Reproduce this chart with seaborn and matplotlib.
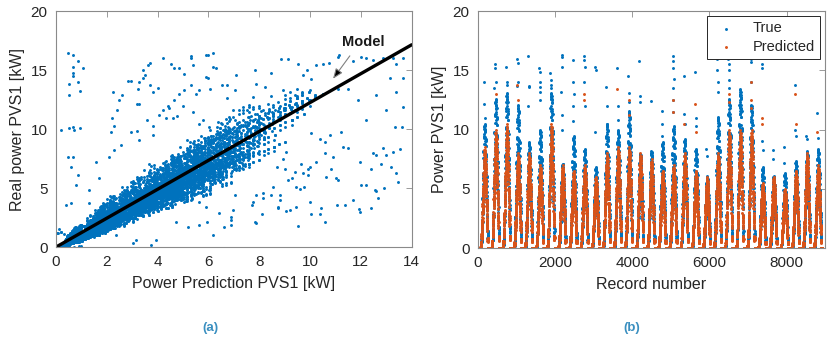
import numpy as np
import matplotlib
matplotlib.use("Agg")
import matplotlib.pyplot as plt
import seaborn as sns

# ---- data (kW) ----
# dense peak of each daily cycle in panel (b)
PRED_PEAK = [8.5, 10.0, 10.5, 8.0, 8.0, 7.0, 10.5, 7.0, 6.5, 7.0, 6.0, 8.0, 8.5, 8.5, 8.0, 7.5,
             6.5, 7.0, 8.0, 6.5, 6.0, 8.0, 10.0, 10.0, 10.0, 5.5, 6.0, 5.0, 6.5, 8.0, 7.0]
TRUE_PEAK = [10.0, 12.0, 12.5, 11.5, 8.5, 9.5, 12.5, 6.8, 9.0, 8.0, 6.5, 10.0, 9.5, 11.0, 7.6, 7.8,
             8.5, 9.8, 8.8, 8.0, 5.8, 10.5, 12.0, 12.8, 11.5, 6.5, 5.8, 6.0, 7.0, 7.8, 8.0]
# hourly fraction of the peak over one day, and the fluctuation inside each hour
HOUR_PRED = [0.02, 0.06, 0.15, 0.28, 0.44, 0.60, 0.75, 0.88, 0.97, 1.00, 0.95, 0.84, 0.68, 0.48, 0.28, 0.10]
HOUR_TRUE = [0.00, 0.03, 0.10, 0.22, 0.40, 0.60, 0.78, 0.90, 0.98, 1.00, 0.96, 0.88, 0.75, 0.58, 0.36, 0.14]
INTRA_PRED = [0.70, 0.95, 0.82, 1.00, 0.76, 0.90, 0.62, 0.97, 0.86, 0.68, 0.93, 0.80]
INTRA_TRUE = [0.60, 1.05, 0.76, 1.04, 0.59, 0.98, 0.55, 1.03, 0.71, 0.76, 0.90, 0.81]
CYCLE_LEN = 288
DAY_START = 68

# isolated true values above the daily columns in panel (b): record, kW
TRUE_SPIKE_REC = [150, 170, 185, 440, 455, 470, 430, 462, 478, 728, 745, 760, 735, 1015, 1030, 1045, 1022,
                  1305, 1320, 1335, 1312, 1590, 1600, 1610, 1620, 1598, 1606, 1880, 1890, 1900, 1886, 1896, 1905,
                  2170, 2180, 2192, 2165, 2185, 2175, 2455, 2470, 2480, 2462, 2475, 2745, 2760, 2770, 2752, 2765,
                  3035, 3050, 3042, 3320, 3335, 3345, 3610, 3625, 3635, 3900, 3912, 3920, 3905, 4185, 4200, 4210,
                  4475, 4490, 4765, 4780, 4772, 5050, 5058, 5064, 5070, 5055, 5062, 5068, 5340, 5352, 5360,
                  5625, 5640, 5650, 5915, 5930, 6200, 6208, 6215, 6222, 6212, 6490, 6498, 6505, 6512, 6502,
                  6780, 6784, 6788, 6792, 6796, 6800, 7065, 7072, 7080, 7088, 7355, 7362, 7370, 7378,
                  7645, 7660, 7930, 7945, 8220, 8230, 8238, 8510, 8522, 8795, 8805, 8815]
TRUE_SPIKE_VAL = [14.0, 12.2, 11.0, 15.5, 15.2, 14.0, 13.5, 12.5, 11.8, 15.3, 14.0, 13.8, 12.3, 16.0, 15.6, 14.0, 13.7,
                  16.2, 13.7, 13.6, 12.0, 15.2, 14.9, 14.0, 13.6, 13.2, 12.5, 14.8, 14.2, 13.8, 13.5, 13.0, 12.6,
                  16.3, 16.1, 15.3, 13.2, 11.2, 10.0, 15.9, 14.0, 13.0, 12.0, 10.7, 16.2, 15.9, 15.3, 14.0, 12.0,
                  15.3, 15.0, 9.8, 13.6, 12.0, 10.5, 15.2, 12.0, 10.8, 14.5, 13.1, 12.3, 11.5, 15.8, 12.8, 12.3,
                  12.4, 8.0, 11.6, 10.5, 9.5, 16.2, 15.8, 15.2, 14.3, 13.5, 12.5, 11.5, 14.5, 11.3, 10.5,
                  14.9, 11.0, 10.3, 8.4, 7.8, 16.0, 15.0, 14.0, 13.2, 11.0, 16.0, 15.5, 15.0, 14.2, 13.5,
                  12.8, 12.5, 12.2, 11.9, 11.6, 11.3, 16.0, 15.7, 14.0, 12.0, 15.5, 15.2, 9.0, 8.3,
                  8.3, 7.5, 8.5, 7.2, 13.8, 10.0, 9.5, 9.5, 9.2, 11.4, 9.3, 8.0]
PRED_SPIKE_REC = [460, 1020, 1035, 2750, 2762, 3615, 3910, 3918, 5048, 5066, 5345, 5630, 5645,
                  6495, 6508, 7070, 7078, 7085, 7360, 7372, 8225, 8235, 8800]
PRED_SPIKE_VAL = [13.0, 13.8, 12.5, 13.0, 12.5, 13.4, 11.2, 12.5, 11.5, 12.5, 10.5, 12.2, 9.8,
                  13.0, 12.3, 14.0, 12.5, 11.8, 11.0, 10.5, 13.0, 10.5, 9.8]

# scattered points of panel (a) away from the main cloud: predicted, real
OUT_PRED = [0.46, 0.68, 0.85, 0.68, 1.05, 0.68, 0.68, 0.52, 0.85, 0.94, 0.52, 2.23, 2.49, 2.60, 2.42, 2.20,
            2.82, 2.95, 3.25, 3.44, 3.51, 3.41, 3.64, 3.70, 4.22, 4.52, 4.65, 4.85, 5.05, 5.31, 5.31, 5.40,
            5.90, 6.00, 6.19, 6.19, 6.30, 5.90, 6.00, 6.06, 5.64, 5.50, 5.31, 5.05, 4.85, 4.65, 4.39, 4.45,
            4.20, 4.98, 5.38, 4.78, 4.32, 4.60, 4.06, 3.80, 4.00, 3.70, 3.22, 3.25, 3.20, 3.80, 3.60, 6.55,
            6.75, 6.75, 6.95, 6.82, 5.77, 5.64, 6.03, 6.50, 2.29, 0.52, 0.66, 0.72, 0.93,
            7.83, 8.48, 8.87, 9.14, 9.53, 9.86, 10.25, 10.51, 10.75, 11.10, 11.15, 11.70, 12.02, 12.22, 12.48,
            12.87, 13.27, 13.66, 13.40, 13.13, 13.40, 13.66, 13.66, 13.00, 12.61, 11.89, 11.50, 11.10, 7.89,
            8.22, 7.76, 8.48, 8.94, 7.37, 7.60, 8.61, 9.27, 9.72, 10.05, 7.04, 7.10, 12.22,
            13.33, 13.60, 11.23, 10.77, 10.38, 10.05, 10.58, 11.30, 11.50, 12.48, 12.61, 12.87, 13.00, 13.27,
            13.53, 12.80, 13.20, 13.40, 13.46, 12.90, 12.61, 12.67, 12.41, 12.22, 12.02, 12.41, 11.95, 11.69,
            11.93, 11.36, 11.08, 11.04, 11.10, 10.64, 10.84, 10.90, 10.58, 10.25, 9.99, 9.92, 9.75, 9.99,
            10.05, 10.38, 10.45, 10.58, 9.53, 9.46, 9.20, 8.74, 8.81, 8.81, 8.74, 8.48, 9.07, 8.15, 8.15,
            7.89, 7.76, 7.70, 8.09, 7.83, 7.89, 7.04, 6.87, 6.90, 8.55, 9.46, 9.60, 9.27, 9.14, 8.68, 9.00,
            9.40, 9.72, 8.94, 9.07, 9.66, 9.92, 11.95, 12.54,
            0.46, 0.66, 0.59, 0.85, 0.79, 1.57, 1.70, 1.31, 1.31, 2.29, 2.10, 2.56, 2.95, 3.28, 2.16, 0.20,
            3.80, 0.20, 0.07, 0.46, 0.59, 0.39, 3.93, 3.74, 3.02, 4.72, 5.18, 5.64, 6.16, 5.96, 6.62, 6.88,
            6.95, 5.90, 6.42, 5.64, 3.15, 2.36, 3.20,
            0.30, 0.50, 0.70, 0.90, 1.00, 0.05, 0.10, 0.20, 0.30]
OUT_REAL = [16.45, 16.26, 15.80, 15.30, 15.20, 14.76, 14.50, 13.80, 14.00, 13.20, 12.90, 13.15, 12.45, 12.90, 11.66, 10.90,
            14.05, 14.05, 14.00, 14.30, 14.56, 15.05, 15.40, 15.60, 16.06, 15.55, 15.20, 15.20, 14.65, 16.17, 16.00, 15.40,
            16.30, 16.26, 16.45, 15.30, 15.20, 14.40, 14.30, 13.43, 13.30, 13.00, 13.70, 13.30, 12.95, 12.50, 12.00, 11.80,
            11.60, 12.00, 11.45, 11.10, 10.90, 10.90, 11.18, 13.15, 13.50, 13.70, 13.40, 12.15, 12.10, 10.30, 10.75, 13.70,
            13.70, 12.60, 11.60, 11.05, 10.75, 10.40, 10.20, 10.50, 10.25, 10.08, 10.20, 9.90, 10.08,
            14.99, 14.76, 15.98, 15.98, 15.55, 15.05, 15.40, 15.55, 15.60, 16.10, 16.30, 15.80, 16.10, 16.05, 15.90,
            16.06, 16.00, 16.06, 15.50, 14.30, 13.15, 14.30, 11.88, 11.60, 12.87, 12.45, 13.44, 13.44, 13.86,
            13.57, 12.73, 12.79, 13.29, 11.60, 11.88, 11.60, 11.88, 14.56, 14.28, 13.29, 14.56, 10.75,
            10.19, 10.19, 9.77, 9.48, 9.20, 9.63, 8.92, 8.50, 8.40, 8.00, 7.80, 8.40, 7.80, 8.10,
            8.30, 7.08, 6.80, 6.24, 5.48, 5.02, 4.77, 4.12, 3.33, 5.25, 5.25, 6.66, 7.22, 3.98,
            3.22, 3.56, 3.56, 5.82, 5.70, 5.95, 6.66, 7.65, 8.00, 7.17, 6.80, 6.10, 5.10, 3.78,
            2.77, 2.77, 3.28, 2.09, 1.80, 3.41, 3.13, 3.41, 3.98, 4.40, 3.30, 4.40, 3.05, 4.55, 4.20,
            4.40, 3.83, 3.56, 2.77, 2.14, 2.00, 4.40, 2.57, 1.86, 5.10, 5.10, 4.90, 5.82, 5.68, 6.80, 6.66,
            6.38, 6.24, 7.50, 8.07, 7.08, 6.66, 2.94, 4.83,
            7.65, 7.65, 6.80, 6.10, 5.25, 7.22, 5.82, 4.83, 3.70, 8.21, 7.65, 8.64, 9.77, 9.06, 9.77, 9.90,
            9.48, 1.30, 1.20, 1.02, 3.70, 3.56, 0.59, 0.17, 0.31, 2.14, 1.72, 1.86, 1.02, 2.14, 1.72, 2.29,
            3.13, 3.41, 2.85, 3.84, 0.59, 1.02, 9.80,
            0.00, 0.05, 0.02, 0.05, 0.10, 1.20, 1.50, 1.30, 1.10]

MODEL_SLOPE = 1.225
MODEL_X = [0, 14]

BLUE = "#0072BD"
ORANGE = "#D95319"

# ---- build the hourly series from the daily peaks ----
n_cycles = len(PRED_PEAK)
day_pred = np.outer(HOUR_PRED, INTRA_PRED).ravel()
day_true = np.outer(HOUR_TRUE, INTRA_TRUE).ravel()
pred = np.zeros(n_cycles * CYCLE_LEN)
true = np.zeros(n_cycles * CYCLE_LEN)
for c in range(n_cycles):
    s = c * CYCLE_LEN + DAY_START
    pred[s:s + len(day_pred)] = PRED_PEAK[c] * day_pred
    true[s:s + len(day_true)] = TRUE_PEAK[c] * day_true
record = np.arange(1, len(pred) + 1)

sns.set_theme(style="white")
plt.rcParams["font.family"] = ["Liberation Sans", "DejaVu Sans"]

fig = plt.figure(figsize=(8.31, 3.38), dpi=100)
ax1 = fig.add_axes([0.0674, 0.269, 0.428, 0.698])
ax2 = fig.add_axes([0.575, 0.266, 0.418, 0.701])

# (a) predicted vs real
sns.scatterplot(x=np.concatenate([pred, OUT_PRED]), y=np.concatenate([true, OUT_REAL]),
                ax=ax1, color=BLUE, s=4.5, linewidth=0)
mx = np.array(MODEL_X)
sns.lineplot(x=mx, y=MODEL_SLOPE * mx, ax=ax1, color="black", linewidth=2.4)
ax1.annotate("", xy=(10.84, 14.08), xytext=(11.63, 16.4),
             arrowprops=dict(arrowstyle="-|>,head_length=0.5,head_width=0.2",
                             ec="#808080", fc="black", lw=0.8))
ax1.text(12.1, 17.4, "Model", ha="center", va="center", fontsize=10.5, fontweight="bold", color="#1a1a1a")
ax1.set_xlim(0, 14)
ax1.set_ylim(0, 20)
ax1.set_xticks(range(0, 15, 2))
ax1.set_yticks(range(0, 21, 5))
ax1.set_xlabel("Power Prediction PVS1 [kW]", fontsize=11.5, color="#262626", labelpad=5)
ax1.set_ylabel("Real power PVS1 [kW]", fontsize=11.5, color="#262626", labelpad=4)

# (b) series
sns.scatterplot(x=np.concatenate([record, TRUE_SPIKE_REC]), y=np.concatenate([true, TRUE_SPIKE_VAL]),
                ax=ax2, color=BLUE, s=4.5, linewidth=0, label="True")
sns.scatterplot(x=np.concatenate([record, PRED_SPIKE_REC]), y=np.concatenate([pred, PRED_SPIKE_VAL]),
                ax=ax2, color=ORANGE, s=4.5, linewidth=0, label="Predicted")
ax2.set_xlim(0, 9000)
ax2.set_ylim(0, 20)
ax2.set_xticks(range(0, 9000, 2000))
ax2.set_yticks(range(0, 21, 5))
ax2.set_xlabel("Record number", fontsize=11.5, color="#262626", labelpad=5)
ax2.set_ylabel("Power PVS1 [kW]", fontsize=11.5, color="#262626", labelpad=4)
leg = ax2.legend(loc="upper right", fontsize=10.5, frameon=True, fancybox=False, framealpha=1,
                 edgecolor="#262626", borderpad=0.35, labelspacing=0.3, handletextpad=0.9,
                 markerscale=1.0, borderaxespad=0.35, handlelength=1.9)
leg.get_frame().set_linewidth(0.7)

for ax in (ax1, ax2):
    ax.tick_params(direction="in", top=True, right=True, length=4, width=0.6,
                   color="#8a8a8a", labelcolor="#262626", labelsize=11, pad=6)
    for sp in ax.spines.values():
        sp.set_color("#8a8a8a")
        sp.set_linewidth(0.8)

fig.text(0.2527, 0.03, "(a)", ha="center", va="center", fontsize=9.5, fontweight="bold", color="#3a8fc0")
fig.text(0.7605, 0.03, "(b)", ha="center", va="center", fontsize=9.5, fontweight="bold", color="#3a8fc0")

fig.savefig("out.png", dpi=100)
